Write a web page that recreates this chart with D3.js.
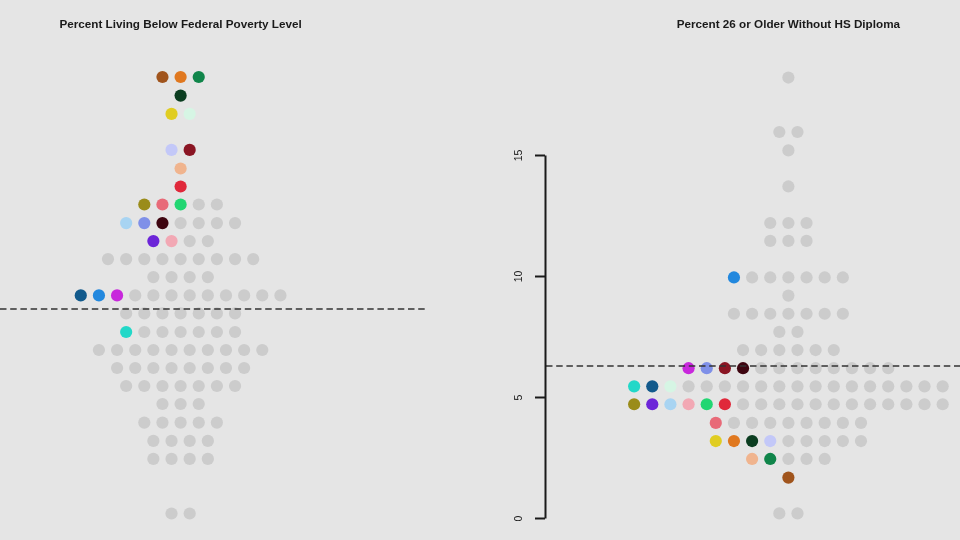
<!DOCTYPE html>
<html>
<head>
<meta charset="utf-8">
<script src="https://cdnjs.cloudflare.com/ajax/libs/d3/7.8.5/d3.min.js"></script>
<style>
  html, body { margin: 0; padding: 0; background: #e5e5e5; }
  svg { display: block; filter: blur(0.45px); }
  text { font-family: "Liberation Sans", Arial, sans-serif; }
</style>
</head>
<body>
<svg id="chart" width="960" height="540"></svg>
<script>
// highlighted groups, same colour in both panels
const groupIds = ["brown", "orange", "green", "forest", "yellow", "mint", "lavender", "maroon",
  "peach", "red", "olive", "rose", "spring", "sky", "periwinkle", "black",
  "violet", "pink", "navy", "blue", "magenta", "teal"];
const groupColors = ["#a0541c", "#e0781f", "#10854a", "#0b3d20", "#e0cd22", "#d6f5e4", "#c3c8f8", "#8a1523",
  "#f0b48e", "#e0283a", "#9a8c1a", "#e86a78", "#22d672", "#a8d4f2", "#7f90e8", "#3e0510",
  "#6c25d8", "#f2a8b4", "#125a8c", "#2288de", "#c828dc", "#22d8c8"];

// percent below poverty level: one entry per row of the swarm
const povertyValues = [22.05, 21.43, 20.82, 19.62, 19.0, 18.4, 17.8, 17.18, 16.58, 15.98, 15.38,
  14.77, 14.17, 13.55, 12.95, 12.35, 11.75, 11.15, 10.53, 9.92, 9.32, 7.5];
const povertyCounts = [3, 1, 2, 2, 1, 1, 5, 7, 4, 9, 4, 12, 7, 7, 10, 8, 7, 3, 5, 4, 4, 2];
const povertyGroups = [["brown", "orange", "green"], ["forest"], ["yellow", "mint"], ["lavender", "maroon"],
  ["peach"], ["red"], ["olive", "rose", "spring"], ["sky", "periwinkle", "black"], ["violet", "pink"],
  [], [], ["navy", "blue", "magenta"], [], ["teal"], [], [], [], [], [], [], [], []];
const povertyMean = 14.32;

// percent 26 or older without a HS diploma
const diplomaValues = [18.2, 15.95, 15.19, 13.7, 12.19, 11.45, 9.94, 9.19, 8.44, 7.69, 6.94, 6.19,
  5.44, 4.7, 3.93, 3.18, 2.44, 1.67, 0.19];
const diplomaCounts = [1, 2, 1, 1, 3, 3, 7, 1, 7, 2, 6, 12, 18, 18, 9, 9, 5, 1, 2];
const diplomaGroups = [[], [], [], [], [], [], ["blue"], [], [], [], [],
  ["magenta", "periwinkle", "maroon", "black"], ["teal", "navy", "mint"],
  ["olive", "violet", "sky", "pink", "spring", "red"], ["rose"],
  ["yellow", "orange", "forest", "lavender"], ["peach", "green"], ["brown"], []];
const diplomaMean = 6.28;

const diplomaTicks = [0, 5, 10, 15];

const svg = d3.select("#chart");
const groupColor = d3.scaleOrdinal(groupIds, groupColors);

svg.append("rect").attr("width", 960).attr("height", 540).attr("fill", "#e5e5e5");

function drawPanel(title, values, counts, groups, mean, y, cx, lineX) {
  const g = svg.append("g");

  // slot 0 is the middle of the swarm, one slot is one dot width
  const x = d3.scaleLinear().domain([-1, 1]).range([cx - 18.15, cx + 18.15]);

  const dots = [];
  values.forEach((v, r) => {
    d3.range(counts[r]).forEach(i => {
      dots.push({ value: v, slot: i - (counts[r] - 1) / 2, group: groups[r][i] });
    });
  });

  g.selectAll("circle")
    .data(dots)
    .enter()
    .append("circle")
    .attr("cx", d => x(d.slot))
    .attr("cy", d => y(d.value))
    .attr("r", 6.1)
    .attr("fill", d => d.group ? groupColor(d.group) : "#cccccc");

  g.append("line")
    .attr("x1", lineX[0])
    .attr("x2", lineX[1])
    .attr("y1", y(mean))
    .attr("y2", y(mean))
    .attr("stroke", "#333")
    .attr("stroke-width", 1.5)
    .attr("stroke-dasharray", "6.5,3.7");

  g.append("text")
    .attr("x", cx)
    .attr("y", 27.5)
    .attr("text-anchor", "middle")
    .attr("font-size", 11.7)
    .attr("font-weight", "bold")
    .attr("fill", "#1a1a1a")
    .text(title);
}

const yPoverty = d3.scaleLinear().domain([7, 22]).range([528.5, 78.5]);
const yDiploma = d3.scaleLinear().domain([0, 15]).range([518, 155]);

drawPanel("Percent Living Below Federal Poverty Level", povertyValues, povertyCounts, povertyGroups,
  povertyMean, yPoverty, 180.6, [0, 425]);
drawPanel("Percent 26 or Older Without HS Diploma", diplomaValues, diplomaCounts, diplomaGroups,
  diplomaMean, yDiploma, 788.4, [546, 960]);

// only the right panel has an axis
const axis = svg.append("g")
  .attr("transform", "translate(545,0)")
  .call(d3.axisLeft(yDiploma).tickValues(diplomaTicks).tickSize(10).tickSizeOuter(0).tickPadding(0));
axis.select(".domain").attr("stroke", "#1a1a1a").attr("stroke-width", 2);
axis.selectAll(".tick line").attr("stroke", "#1a1a1a").attr("stroke-width", 2);
axis.selectAll(".tick text")
  .attr("x", 0)
  .attr("dy", 0)
  .attr("transform", "translate(-23,0) rotate(-90)")
  .attr("text-anchor", "middle")
  .attr("font-size", 10.5)
  .attr("fill", "#1a1a1a")
  .style("font-family", "'Liberation Sans', Arial, sans-serif");
</script>
</body>
</html>
